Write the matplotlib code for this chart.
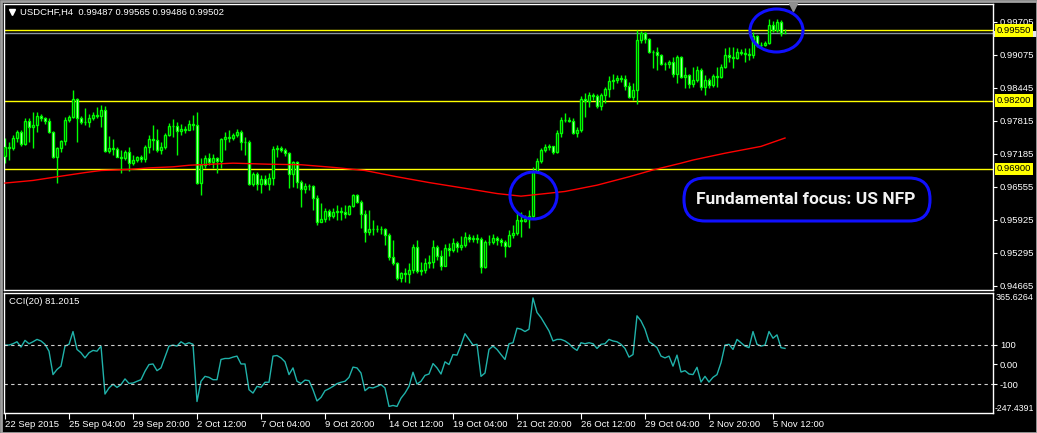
import matplotlib
matplotlib.use("Agg")
import matplotlib.pyplot as plt
from matplotlib.patches import Ellipse, FancyBboxPatch, Rectangle
from matplotlib.transforms import blended_transform_factory

plt.rcParams['font.family'] = ['Liberation Sans', 'DejaVu Sans']

W, H = 1037, 433

# ---- data (USDCHF H4) ----
first_open = 0.9715
closes = [
    0.9732, 0.9730, 0.9749, 0.9761, 0.9738, 0.9782, 0.9770, 0.9774, 0.9791, 0.9787,
    0.9782, 0.9761, 0.9713, 0.9730, 0.9743, 0.9783, 0.9789, 0.9823, 0.9787, 0.9780,
    0.9780, 0.9787, 0.9793, 0.9791, 0.9803, 0.9724, 0.9730, 0.9728, 0.9713, 0.9711,
    0.9722, 0.9701, 0.9707, 0.9713, 0.9709, 0.9732, 0.9747, 0.9745, 0.9726, 0.9732,
    0.9755, 0.9772, 0.9772, 0.9762, 0.9766, 0.9764, 0.9776, 0.9774, 0.9663, 0.9697,
    0.9711, 0.9703, 0.9711, 0.9705, 0.9747, 0.9751, 0.9749, 0.9755, 0.9761, 0.9741,
    0.9741, 0.9661, 0.9680, 0.9661, 0.9671, 0.9661, 0.9673, 0.9728, 0.9730, 0.9726,
    0.9720, 0.9680, 0.9703, 0.9665, 0.9652, 0.9657, 0.9657, 0.9635, 0.9589, 0.9594,
    0.9610, 0.9600, 0.9608, 0.9610, 0.9608, 0.9604, 0.9619, 0.9640, 0.9627, 0.9604,
    0.9570, 0.9575, 0.9575, 0.9575, 0.9575, 0.9564, 0.9522, 0.9510, 0.9482, 0.9491,
    0.9489, 0.9497, 0.9541, 0.9495, 0.9497, 0.9510, 0.9512, 0.9541, 0.9524, 0.9505,
    0.9539, 0.9535, 0.9549, 0.9541, 0.9545, 0.9560, 0.9556, 0.9558, 0.9556, 0.9503,
    0.9551, 0.9551, 0.9558, 0.9554, 0.9551, 0.9543, 0.9564, 0.9568, 0.9593, 0.9590,
    0.9594, 0.9600, 0.9684, 0.9705, 0.9726, 0.9732, 0.9734, 0.9722, 0.9759, 0.9783,
    0.9783, 0.9782, 0.9759, 0.9764, 0.9823, 0.9820, 0.9831, 0.9829, 0.9810, 0.9831,
    0.9843, 0.9858, 0.9860, 0.9864, 0.9862, 0.9848, 0.9827, 0.9841, 0.9936, 0.9949,
    0.9938, 0.9913, 0.9913, 0.9907, 0.9890, 0.9890, 0.9894, 0.9871, 0.9904, 0.9865,
    0.9869, 0.9852, 0.9860, 0.9879, 0.9846, 0.9860, 0.9850, 0.9867, 0.9865, 0.9885,
    0.9907, 0.9904, 0.9902, 0.9913, 0.9911, 0.9909, 0.9907, 0.9944, 0.9927, 0.9927,
    0.9930, 0.9965, 0.9955, 0.9970, 0.99487, 0.99502,
]
highs = [
    0.9749, 0.9741, 0.9755, 0.9764, 0.9764, 0.9787, 0.9787, 0.9799, 0.9799, 0.9795,
    0.9789, 0.9787, 0.9762, 0.9732, 0.9745, 0.9789, 0.9793, 0.9841, 0.9825, 0.9791,
    0.9806, 0.9795, 0.9799, 0.9808, 0.9812, 0.9810, 0.9753, 0.9747, 0.9732, 0.9726,
    0.9726, 0.9732, 0.9716, 0.9714, 0.9716, 0.9736, 0.9755, 0.9774, 0.9766, 0.9741,
    0.9759, 0.9778, 0.9785, 0.9780, 0.9776, 0.9772, 0.9783, 0.9793, 0.9799, 0.9711,
    0.9716, 0.9720, 0.9718, 0.9713, 0.9749, 0.9761, 0.9764, 0.9759, 0.9766, 0.9764,
    0.9751, 0.9745, 0.9684, 0.9684, 0.9678, 0.9678, 0.9682, 0.9734, 0.9736, 0.9734,
    0.9730, 0.9722, 0.9705, 0.9705, 0.9669, 0.9663, 0.9661, 0.9659, 0.9640, 0.9625,
    0.9615, 0.9614, 0.9615, 0.9621, 0.9617, 0.9621, 0.9621, 0.9642, 0.9642, 0.9631,
    0.9612, 0.9612, 0.9593, 0.9583, 0.9581, 0.9577, 0.9568, 0.9554, 0.9512, 0.9493,
    0.9500, 0.9510, 0.9547, 0.9554, 0.9512, 0.9520, 0.9526, 0.9554, 0.9545, 0.9535,
    0.9547, 0.9549, 0.9558, 0.9553, 0.9562, 0.9570, 0.9566, 0.9564, 0.9566, 0.9560,
    0.9554, 0.9564, 0.9566, 0.9562, 0.9558, 0.9554, 0.9573, 0.9583, 0.9608, 0.9608,
    0.9602, 0.9612, 0.9694, 0.9711, 0.9730, 0.9738, 0.9738, 0.9734, 0.9764, 0.9789,
    0.9797, 0.9789, 0.9787, 0.9770, 0.9829, 0.9835, 0.9837, 0.9835, 0.9833, 0.9835,
    0.9846, 0.9867, 0.9871, 0.9869, 0.9869, 0.9869, 0.9856, 0.9854, 0.9955, 0.9953,
    0.9951, 0.9940, 0.9917, 0.9923, 0.9909, 0.9894, 0.9898, 0.9904, 0.9907, 0.9906,
    0.9885, 0.9872, 0.9885, 0.9887, 0.9883, 0.9869, 0.9864, 0.9871, 0.9885, 0.9890,
    0.9921, 0.9923, 0.9923, 0.9921, 0.9919, 0.9921, 0.9921, 0.9951, 0.9946, 0.9932,
    0.9934, 0.9976, 0.9972, 0.9976, 0.9974, 0.99565,
]
lows = [
    0.9701, 0.9707, 0.9726, 0.9741, 0.9734, 0.9736, 0.9741, 0.9730, 0.9761, 0.9782,
    0.9776, 0.9759, 0.9711, 0.9663, 0.9722, 0.9736, 0.9780, 0.9787, 0.9741, 0.9776,
    0.9774, 0.9770, 0.9783, 0.9787, 0.9770, 0.9722, 0.9720, 0.9716, 0.9712, 0.9682,
    0.9707, 0.9686, 0.9697, 0.9703, 0.9703, 0.9703, 0.9720, 0.9726, 0.9722, 0.9718,
    0.9728, 0.9753, 0.9751, 0.9716, 0.9755, 0.9759, 0.9764, 0.9764, 0.9661, 0.9640,
    0.9692, 0.9697, 0.9692, 0.9682, 0.9692, 0.9726, 0.9741, 0.9745, 0.9751, 0.9726,
    0.9716, 0.9659, 0.9657, 0.9650, 0.9644, 0.9659, 0.9650, 0.9659, 0.9713, 0.9722,
    0.9714, 0.9654, 0.9655, 0.9654, 0.9617, 0.9644, 0.9650, 0.9612, 0.9583, 0.9589,
    0.9589, 0.9593, 0.9596, 0.9593, 0.9593, 0.9596, 0.9602, 0.9617, 0.9625, 0.9577,
    0.9551, 0.9564, 0.9564, 0.9570, 0.9566, 0.9545, 0.9516, 0.9506, 0.9478, 0.9474,
    0.9474, 0.9472, 0.9491, 0.9491, 0.9488, 0.9491, 0.9501, 0.9501, 0.9516, 0.9497,
    0.9505, 0.9524, 0.9531, 0.9531, 0.9535, 0.9541, 0.9551, 0.9551, 0.9549, 0.9491,
    0.9501, 0.9545, 0.9547, 0.9545, 0.9543, 0.9522, 0.9541, 0.9558, 0.9564, 0.9560,
    0.9589, 0.9577, 0.9598, 0.9684, 0.9701, 0.9722, 0.9726, 0.9718, 0.9720, 0.9751,
    0.9780, 0.9780, 0.9757, 0.9751, 0.9761, 0.9789, 0.9808, 0.9822, 0.9806, 0.9803,
    0.9816, 0.9827, 0.9843, 0.9854, 0.9856, 0.9841, 0.9825, 0.9822, 0.9814, 0.9930,
    0.9930, 0.9911, 0.9883, 0.9879, 0.9888, 0.9879, 0.9883, 0.9865, 0.9854, 0.9864,
    0.9844, 0.9844, 0.9846, 0.9856, 0.9841, 0.9831, 0.9844, 0.9846, 0.9846, 0.9864,
    0.9883, 0.9894, 0.9883, 0.9900, 0.9907, 0.9894, 0.9898, 0.9902, 0.9923, 0.9923,
    0.9925, 0.9928, 0.9951, 0.9951, 0.9944, 0.99486,
]
cci = [
    98, 98, 105, 115, 88, 122, 105, 115, 127, 119,
    102, 67, -52, -26, -9, 93, 102, 167, 76, 59,
    33, 59, 71, 67, 93, -151, -120, -101, -117, -103,
    -74, -97, -95, -86, -78, -35, -1, 2, -32, -18,
    37, 93, 98, 93, 115, 102, 110, 102, -189, -86,
    -61, -66, -78, -78, 25, 30, 30, 37, 42, 2,
    2, -129, -146, -112, -117, -91, -91, 42, 45, 33,
    13, -52, -18, -86, -97, -80, -83, -129, -186, -168,
    -134, -124, -112, -98, -91, -86, -66, -14, -18, -44,
    -134, -117, -120, -112, -103, -120, -214, -209, -214, -172,
    -146, -112, -40, -100, -86, -56, -49, 4, -18, -49,
    13, -1, 50, 47, 98, 156, 127, 98, 102, -61,
    -44, 76, 93, 76, 50, 25, 105, 110, 184, 179,
    167, 179, 338, 264, 238, 204, 170, 119, 127, 127,
    119, 105, 85, 71, 110, 105, 110, 105, 81, 102,
    105, 127, 119, 115, 102, 81, 37, 50, 247, 221,
    179, 115, 102, 85, 42, 33, 42, -9, 47, -39,
    -32, -49, -52, -15, -90, -61, -90, -66, -52, 8,
    98, 102, 76, 127, 110, 93, 85, 167, 102, 93,
    98, 167, 133, 150, 85, 81.2015,
]
# moving average (red) sampled along the chart
ma_bars = [0, 7, 13, 20, 24, 31, 36, 42, 46, 57, 66, 74, 82, 90, 98, 106, 115,
           123, 129, 134, 140, 148, 156, 162, 169, 172, 180, 189, 195]
ma_vals = [0.9663, 0.9668, 0.9675, 0.9683, 0.9687, 0.9689, 0.9692, 0.9694, 0.9697,
           0.9701, 0.9699, 0.9698, 0.9693, 0.9687, 0.9675, 0.9664, 0.9653, 0.9643,
           0.9638, 0.9642, 0.9647, 0.9659, 0.9675, 0.9688, 0.9701, 0.9707, 0.9720,
           0.9733, 0.9749]

date_labels = ['22 Sep 2015', '25 Sep 04:00', '29 Sep 20:00', '2 Oct 12:00',
               '7 Oct 04:00', '9 Oct 20:00', '14 Oct 12:00', '19 Oct 04:00',
               '21 Oct 20:00', '26 Oct 12:00', '29 Oct 04:00', '2 Nov 20:00',
               '5 Nov 12:00']
label_step = 16
price_ticks = [0.99705, 0.99075, 0.98445, 0.97815, 0.97185, 0.96555, 0.95925,
               0.95295, 0.94665]
levels = [0.99550, 0.98200, 0.96900]
bid = 0.99502
cci_max, cci_min = 365.6264, -247.4391
cci_levels = [100, -100]

LIME = '#00ff00'
FS = 6.8


def px_axes(x0, y0, x1, y1):
    return [x0 / W, 1 - y1 / H, (x1 - x0) / W, (y1 - y0) / H]


fig = plt.figure(figsize=(W / 100, H / 100), dpi=100, facecolor='black')
ax = fig.add_axes(px_axes(4, 4, 993, 290), facecolor='black')
cx = fig.add_axes(px_axes(4, 292.5, 993, 413), facecolor='black')

for a in (ax, cx):
    for s in a.spines.values():
        s.set_color('white')
        s.set_linewidth(1)
    a.set_xlim(-0.25, 247)
    a.tick_params(colors='white', labelsize=FS, length=3, width=0.8)
    a.yaxis.tick_right()

# ---- main price panel ----
ax.set_ylim(0.945886, 1.000486)
ax.set_xticks([])
ax.set_yticks(price_ticks)
ax.set_yticklabels([f'{p:.5f}' for p in price_ticks])
ax.tick_params(axis='y', pad=2)

for lvl in levels:
    ax.axhline(lvl, color='#ffff00', lw=1, zorder=1)
ax.axhline(bid, color='#8a96a3', lw=1, zorder=1)

opens = [first_open] + closes[:-1]
xs = list(range(len(closes)))
ax.vlines(xs, lows, highs, color=LIME, lw=1, zorder=2)
bottoms = [min(o, c) for o, c in zip(opens, closes)]
heights = [abs(c - o) for o, c in zip(opens, closes)]
fills = ['white' if c < o else 'black' for o, c in zip(opens, closes)]
ax.bar(xs, heights, bottom=bottoms, width=0.62, color=fills, edgecolor=LIME,
       linewidth=1.0, zorder=3)
ax.plot(ma_bars, ma_vals, color='#ff0000', lw=1, zorder=4)

tr = blended_transform_factory(ax.transAxes, ax.transData)
# bid price tag peeking out below the yellow 0.99550 tag
ax.add_patch(Rectangle((1.0, bid - 0.0009), 0.045, 0.0013, transform=tr,
                       fc='#e8e8e8', ec='none', clip_on=False, zorder=5))
for lvl in levels:
    ax.text(1.0035, lvl, f'{lvl:.5f}', transform=tr, color='black', fontsize=FS,
            va='center', ha='left', zorder=6, clip_on=False,
            bbox=dict(boxstyle='square,pad=0.2', fc='#ffff00', ec='none'))

# ---- CCI panel ----
cx.set_ylim(cci_min, cci_max)
cx.plot(xs, cci, color='#20b2aa', lw=1)
for lv in cci_levels:
    cx.axhline(lv, color='#d0d0d0', lw=0.8, ls=(0, (3, 3)))
cx.set_yticks([100, 0, -100])
cx.set_yticklabels(['100', '0.00', '-100'])
cx.tick_params(axis='y', pad=2)
trc = blended_transform_factory(cx.transAxes, cx.transData)
cx.text(1.003, cci_max, f'{cci_max:.4f}', transform=trc, color='white',
        fontsize=6.5, va='top', ha='left', clip_on=False)
cx.text(1.002, cci_min, f'{cci_min:.4f}', transform=trc, color='white',
        fontsize=6.3, va='bottom', ha='left', clip_on=False)
cx.set_xticks(range(0, label_step * len(date_labels), label_step))
cx.set_xticklabels(date_labels)
cx.tick_params(axis='x', length=4, pad=1)
for lab in cx.get_xticklabels():
    lab.set_ha('left')

# ---- overlay: titles and hand-drawn annotations, in pixel coords ----
ov = fig.add_axes([0, 0, 1, 1], facecolor='none')
ov.set_xlim(0, W)
ov.set_ylim(H, 0)
ov.axis('off')
ov.add_patch(Rectangle((0.5, 0.5), W - 1, H - 1, fill=False, ec='#a0a0a0', lw=2))
ov.plot(11.5, 12, marker='v', color='white', ms=4)
ov.text(20, 12.5, 'USDCHF,H4  0.99487 0.99565 0.99486 0.99502', color='white',
        fontsize=FS, va='center', ha='left')
ov.text(9, 301, 'CCI(20) 81.2015', color='white', fontsize=FS, va='center', ha='left')
ov.plot(793, 6.5, marker='v', color='#909090', ms=6)

BLUE = '#1010ff'
ov.add_patch(Ellipse((533.5, 195.5), 47, 47, fill=False, ec=BLUE, lw=2.2))
ov.add_patch(Ellipse((776.5, 30.5), 53, 43, fill=False, ec=BLUE, lw=2.2))
ov.add_patch(FancyBboxPatch((684, 178), 246, 43,
                            boxstyle='round,pad=0,rounding_size=21',
                            fc='black', ec=BLUE, lw=2.2))
ov.text(806, 200, 'Fundamental focus: US NFP', color='#f2f2f2', fontsize=12.5,
        fontweight='bold', family='Roboto', ha='center', va='center')

fig.savefig('out.png', dpi=100, facecolor='black')
